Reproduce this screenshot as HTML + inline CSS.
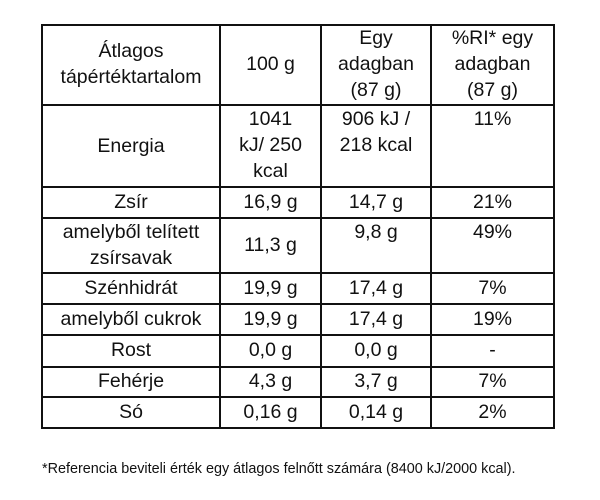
<!DOCTYPE html>
<html><head><meta charset="utf-8"><style>
body{margin:0;width:600px;height:500px;background:#fff;position:relative;font-family:"Liberation Sans",sans-serif;color:#111;overflow:hidden}
.h{position:absolute;left:42px;width:513px;height:2px;background:#111}
.v{position:absolute;top:24px;height:405px;width:2px;background:#111}
.c{position:absolute;text-align:center;font-size:19.5px;line-height:26px;white-space:nowrap}
.f{position:absolute;left:42px;top:461px;font-size:14.4px}
</style></head><body>
<div class="h" style="top:24px"></div>
<div class="h" style="top:104px"></div>
<div class="h" style="top:186px"></div>
<div class="h" style="top:217px"></div>
<div class="h" style="top:272px"></div>
<div class="h" style="top:303px"></div>
<div class="h" style="top:334px"></div>
<div class="h" style="top:366px"></div>
<div class="h" style="top:396px"></div>
<div class="h" style="top:427px"></div>
<div class="v" style="left:41px"></div>
<div class="v" style="left:219px"></div>
<div class="v" style="left:320px"></div>
<div class="v" style="left:430px"></div>
<div class="v" style="left:553px"></div>

<div class="c" style="left:42px;width:178px;top:38px">Átlagos<br>tápértéktartalom</div>
<div class="c" style="left:220px;width:101px;top:51px">100 g</div>
<div class="c" style="left:321px;width:110px;top:25px">Egy<br>adagban<br>(87 g)</div>
<div class="c" style="left:431px;width:123px;top:25px">%RI* egy<br>adagban<br>(87 g)</div>

<div class="c" style="left:42px;width:178px;top:133px">Energia</div>
<div class="c" style="left:220px;width:101px;top:106px">1041<br>kJ/ 250<br>kcal</div>
<div class="c" style="left:321px;width:110px;top:106px">906 kJ /<br>218 kcal</div>
<div class="c" style="left:431px;width:123px;top:106px">11%</div>

<div class="c" style="left:42px;width:178px;top:189px">Zsír</div>
<div class="c" style="left:220px;width:101px;top:189px">16,9 g</div>
<div class="c" style="left:321px;width:110px;top:189px">14,7 g</div>
<div class="c" style="left:431px;width:123px;top:189px">21%</div>

<div class="c" style="left:42px;width:178px;top:219px">amelyből telített<br>zsírsavak</div>
<div class="c" style="left:220px;width:101px;top:232px">11,3 g</div>
<div class="c" style="left:321px;width:110px;top:219px">9,8 g</div>
<div class="c" style="left:431px;width:123px;top:219px">49%</div>

<div class="c" style="left:42px;width:178px;top:275px">Szénhidrát</div>
<div class="c" style="left:220px;width:101px;top:275px">19,9 g</div>
<div class="c" style="left:321px;width:110px;top:275px">17,4 g</div>
<div class="c" style="left:431px;width:123px;top:275px">7%</div>

<div class="c" style="left:42px;width:178px;top:306px">amelyből cukrok</div>
<div class="c" style="left:220px;width:101px;top:306px">19,9 g</div>
<div class="c" style="left:321px;width:110px;top:306px">17,4 g</div>
<div class="c" style="left:431px;width:123px;top:306px">19%</div>

<div class="c" style="left:42px;width:178px;top:337px">Rost</div>
<div class="c" style="left:220px;width:101px;top:337px">0,0 g</div>
<div class="c" style="left:321px;width:110px;top:337px">0,0 g</div>
<div class="c" style="left:431px;width:123px;top:337px">-</div>

<div class="c" style="left:42px;width:178px;top:368px">Fehérje</div>
<div class="c" style="left:220px;width:101px;top:368px">4,3 g</div>
<div class="c" style="left:321px;width:110px;top:368px">3,7 g</div>
<div class="c" style="left:431px;width:123px;top:368px">7%</div>

<div class="c" style="left:42px;width:178px;top:399px">Só</div>
<div class="c" style="left:220px;width:101px;top:399px">0,16 g</div>
<div class="c" style="left:321px;width:110px;top:399px">0,14 g</div>
<div class="c" style="left:431px;width:123px;top:399px">2%</div>

<div class="f">*Referencia beviteli érték egy átlagos felnőtt számára (8400 kJ/2000 kcal).</div>
</body></html>
